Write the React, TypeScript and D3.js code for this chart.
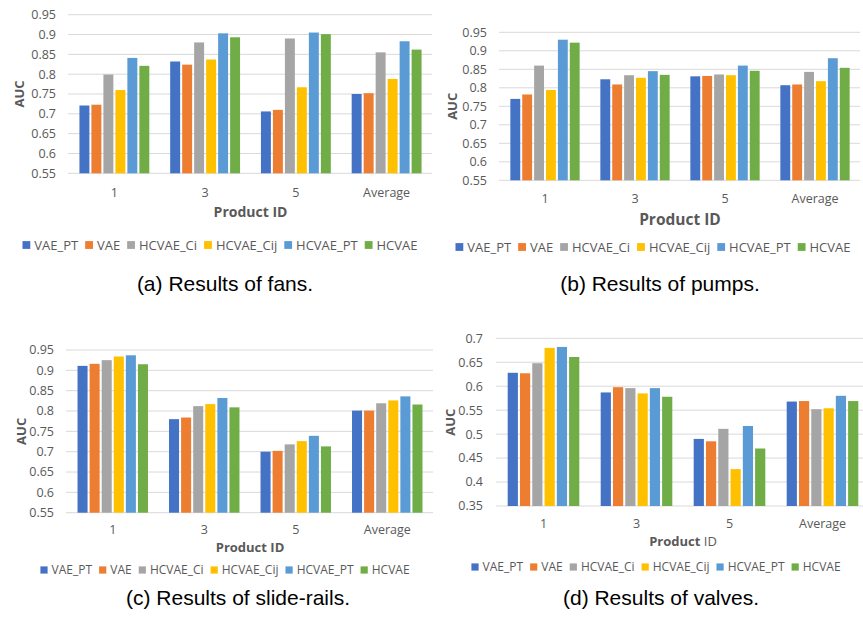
import React from 'react';
import * as d3 from 'd3';

const categories = ['1', '3', '5', 'Average'];
const seriesNames = ['VAE_PT', 'VAE', 'HCVAE_Ci', 'HCVAE_Cij', 'HCVAE_PT', 'HCVAE'];
const seriesColors = ['#4472C4', '#ED7D31', '#A5A5A5', '#FFC000', '#5B9BD5', '#70AD47'];

// one row per product ID, one value per series
const fansAUC = [
  [0.721, 0.723, 0.799, 0.760, 0.841, 0.821],
  [0.832, 0.824, 0.880, 0.837, 0.903, 0.893],
  [0.706, 0.710, 0.890, 0.767, 0.905, 0.901],
  [0.750, 0.752, 0.855, 0.788, 0.883, 0.862],
];
const pumpsAUC = [
  [0.770, 0.782, 0.860, 0.794, 0.930, 0.922],
  [0.823, 0.809, 0.834, 0.827, 0.845, 0.835],
  [0.831, 0.832, 0.836, 0.834, 0.860, 0.846],
  [0.807, 0.809, 0.843, 0.818, 0.880, 0.854],
];
const slideRailsAUC = [
  [0.911, 0.916, 0.925, 0.934, 0.937, 0.915],
  [0.780, 0.784, 0.812, 0.817, 0.832, 0.809],
  [0.700, 0.702, 0.718, 0.726, 0.739, 0.713],
  [0.801, 0.801, 0.819, 0.826, 0.836, 0.816],
];
const valvesAUC = [
  [0.628, 0.627, 0.648, 0.680, 0.682, 0.661],
  [0.587, 0.598, 0.596, 0.585, 0.596, 0.578],
  [0.490, 0.485, 0.511, 0.427, 0.517, 0.470],
  [0.568, 0.569, 0.552, 0.554, 0.580, 0.569],
];

const FONT = '"Open Sans", sans-serif';
const CAPTION_FONT = '"Liberation Sans", Arial, sans-serif';

let ctx = null;
function measure(str, size, weight = 'normal') {
  if (!ctx) ctx = document.createElement('canvas').getContext('2d');
  ctx.font = `${weight} ${size}px ${FONT}`;
  return ctx.measureText(str).width;
}

function Legend({ cx, cy, size }) {
  const sq = size * 0.6;
  const gap = 4;
  const spacing = 7;
  const widths = seriesNames.map(s => sq + gap + measure(s, size));
  const total = d3.sum(widths) + spacing * (seriesNames.length - 1);
  let x = cx - total / 2;
  return (
    <g>
      {seriesNames.map((s, i) => {
        const x0 = x;
        x += widths[i] + spacing;
        return (
          <g key={s}>
            <rect x={x0} y={cy - sq / 2} width={sq} height={sq} fill={seriesColors[i]} />
            <text x={x0 + sq + gap} y={cy} dy="0.35em" fontSize={size} fill="#595959" fontFamily={FONT}>{s}</text>
          </g>
        );
      })}
    </g>
  );
}

function Panel({ values, yDomain, nTicks, left, right, top, bottom, tickRight, aucX,
                 catY, titleY, titleSize, legendX, legendY, legendSize, caption, captionX, captionY, splitTitle }) {
  const x0 = d3.scaleBand().domain(categories).range([left, right]);
  const groupW = x0.bandwidth() * 0.77;
  const x1 = d3.scaleBand().domain(seriesNames).range([-groupW / 2, groupW / 2]).paddingInner(0.17);
  const y = d3.scaleLinear().domain(yDomain).range([bottom, top]);
  const ticks = y.ticks(nTicks);
  const fmt = v => String(+v.toFixed(2));

  return (
    <g>
      {ticks.map(t => (
        <g key={t}>
          <line x1={left - 1} x2={right} y1={y(t)} y2={y(t)} stroke="#d9d9d9" strokeWidth={1} />
          <text x={tickRight} y={y(t)} dy="0.35em" textAnchor="end" fontSize={12.5} fill="#595959" fontFamily={FONT}>{fmt(t)}</text>
        </g>
      ))}
      {categories.map((c, ci) => (
        <g key={c} transform={`translate(${x0(c) + x0.bandwidth() / 2},0)`}>
          {seriesNames.map((s, si) => (
            <rect key={s} x={x1(s)} y={y(values[ci][si])} width={x1.bandwidth()}
                  height={bottom - y(values[ci][si])} fill={seriesColors[si]} />
          ))}
          <text y={catY} textAnchor="middle" fontSize={12.5} fill="#595959" fontFamily={FONT}>{c}</text>
        </g>
      ))}
      <text transform={`translate(${aucX},${(top + bottom) / 2}) rotate(-90)`} textAnchor="middle"
            fontSize={13} fontWeight="bold" fill="#595959" fontFamily={FONT}>AUC</text>
      <text x={(left + right) / 2} y={titleY} textAnchor="middle" fontSize={titleSize}
            fill="#595959" fontFamily={FONT}>
        <tspan fontWeight="bold">Product</tspan>
        <tspan fontWeight={splitTitle ? 'normal' : 'bold'}> ID</tspan>
      </text>
      <Legend cx={legendX} cy={legendY} size={legendSize} />
      <text x={captionX} y={captionY} textAnchor="middle" fontSize={21} fill="#000" fontFamily={CAPTION_FONT}>{caption}</text>
    </g>
  );
}

export default function App() {
  return (
    <svg width={863} height={617} style={{ position: 'absolute', left: 0, top: 0, background: '#fff' }}>
      <rect width={863} height={617} fill="#fff" />
      <Panel values={fansAUC} yDomain={[0.55, 0.95]} nTicks={8} left={69} right={432} top={14.7} bottom={173.3}
             tickRight={56} aucX={24} catY={197} titleY={217} titleSize={14}
             legendX={220} legendY={245} legendSize={13}
             caption="(a) Results of fans." captionX={225} captionY={291} />
      <Panel values={pumpsAUC} yDomain={[0.55, 0.95]} nTicks={8} left={500} right={860} top={32.3} bottom={180.3}
             tickRight={487} aucX={457} catY={203} titleY={225} titleSize={15.5}
             legendX={653} legendY={247} legendSize={13}
             caption="(b) Results of pumps." captionX={660} captionY={291} />
      <Panel values={slideRailsAUC} yDomain={[0.55, 0.95]} nTicks={8} left={67} right={433} top={350} bottom={512.7}
             tickRight={54} aucX={26} catY={534} titleY={552} titleSize={13}
             legendX={225} legendY={570} legendSize={12}
             caption="(c) Results of slide-rails." captionX={238} captionY={605} />
      <Panel values={valvesAUC} yDomain={[0.35, 0.7]} nTicks={7} left={497} right={869} top={338.3} bottom={506}
             tickRight={483} aucX={455} catY={528} titleY={546} titleSize={13}
             legendX={656} legendY={567} legendSize={12} splitTitle
             caption="(d) Results of valves." captionX={661} captionY={605} />
    </svg>
  );
}
